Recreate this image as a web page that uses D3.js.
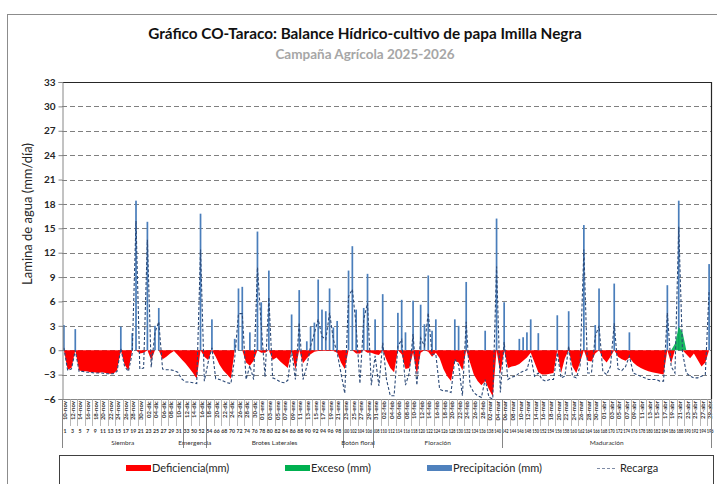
<!DOCTYPE html>
<html lang="es">
<head>
<meta charset="utf-8">
<title>Balance Hídrico - Taraco</title>
<style>
  body { margin: 0; background: #fff; }
  svg { display: block; font-family: Lato, "Liberation Sans", sans-serif; }
</style>
</head>
<body>
<svg id="chart" width="717" height="484"></svg>
<script src="https://d3js.org/d3.v7.min.js"></script>
<script>
// datos (mm/dia), dia 1 = 10-nov-2025
var fechaInicio = new Date(2025, 10, 10);
var meses = ["ene", "feb", "mar", "abr", "may", "jun", "jul", "ago", "sep", "oct", "nov", "dic"];

var precipitacion = [
  3.1, 0, 0, 2.6, 0, 0, 0, 0, 0, 0,
  0, 0, 0, 0, 0, 2.9, 0, 0, 2.1, 18.4,
  0, 0, 15.8, 0, 3.0, 5.2, 0, 0, 0, 0,
  0, 0, 0, 0, 0, 0, 16.8, 0, 0, 3.8,
  0, 0, 0, 0, 0, 1.4, 7.6, 7.8, 0, 2.2,
  0, 14.6, 5.9, 0, 9.8, 0, 0, 0, 0, 0,
  4.4, 0, 7.4, 0, 1.1, 2.9, 3.4, 8.7, 5.0, 4.8,
  7.6, 2.8, 3.6, 0, 0, 9.8, 12.8, 5.0, 0, 5.2,
  9.4, 0, 3.8, 0, 6.9, 0, 0, 0, 4.6, 6.2,
  2.2, 0, 6.1, 0, 5.6, 3.2, 9.2, 2.4, 3.8, 0,
  0, 0, 0, 3.8, 3.0, 0, 8.4, 0, 0, 0,
  0, 2.4, 0, 0, 16.2, 0, 5.9, 0, 0, 0,
  1.4, 1.6, 2.2, 3.8, 0, 2.1, 0, 0, 0, 0,
  4.3, 0, 0, 4.8, 0, 0, 0, 15.4, 0, 0,
  3.1, 7.6, 0, 0, 0, 8.2, 0, 0, 0, 2.2,
  0, 0, 0, 0, 0, 0, 0, 0, 0, 8.0,
  0, 0, 18.4, 0, 0, 0, 0, 0, 0, 0,
  10.6
];

var deficiencia = [
  0, -2.4, -2.2, 0, -2.5, -2.6, -2.6, -2.7, -2.7, -2.8,
  -2.7, -2.8, -2.9, -2.9, -2.5, 0, -1.8, -2.5, 0, 0,
  -0.4, -0.3, 0, -1.2, 0, 0, -1.1, -0.8, -0.4, -0.1,
  -0.6, -1.1, -1.6, -2.2, -2.8, -3.5, 0, -0.8, -1.2, 0,
  -0.8, -1.8, -2.5, -3.0, -3.5, 0, 0, 0, -1.5, -1.9,
  -1.3, 0, -0.3, -0.3, 0, -1.2, -0.9, -1.4, -1.8, -2.2,
  0, -2.4, 0, -1.6, -1.0, -0.5, -0.2, -0.1, -0.1, -0.1,
  -0.1, -0.1, -0.3, -1.5, -2.3, 0, 0, -0.4, -0.4, 0,
  -0.3, -0.3, -0.5, -0.6, 0, -1.2, -2.2, -2.7, 0, -0.5,
  -2.3, -2.2, -0.3, -3.0, -0.3, 0, -0.2, -0.8, -0.3, -1.0,
  -2.3, -3.2, -3.8, -1.3, -1.5, -2.5, 0, -1.5, -3.0, -3.8,
  -4.3, -3.8, -4.8, -5.7, 0, -2.9, 0, -2.2, -2.0, -1.9,
  -1.7, -1.3, -0.9, -0.3, -1.5, -2.7, -3.0, -3.0, -2.9, -2.8,
  0, -2.8, -1.0, 0, -2.0, -2.8, -1.5, 0, -1.3, -1.4,
  -0.4, 0, -1.0, -1.5, -0.8, 0, -0.8, -1.1, -1.3, -0.9,
  -1.5, -1.9, -2.2, -2.4, -2.6, -2.7, -2.8, -2.9, -3.0, 0,
  -1.6, 0, 0, 0, -0.5, -1.0, -0.4, -1.2, -2.0, -1.5,
  0
];

var exceso = [
  0, 0, 0, 0, 0, 0, 0, 0, 0, 0,
  0, 0, 0, 0, 0, 0, 0, 0, 0, 0,
  0, 0, 0, 0, 0, 0, 0, 0, 0, 0,
  0, 0, 0, 0, 0, 0, 0, 0, 0, 0,
  0, 0, 0, 0, 0, 0, 0, 0, 0, 0,
  0, 0, 0, 0, 0, 0, 0, 0, 0, 0,
  0, 0, 0, 0, 0, 0, 0, 0, 0, 0,
  0, 0, 0, 0, 0, 0, 0, 0, 0, 0,
  0, 0, 0, 0, 0, 0, 0, 0, 0, 0,
  0, 0, 0, 0, 0, 0, 0, 0, 0, 0,
  0, 0, 0, 0, 0, 0, 0, 0, 0, 0,
  0, 0, 0, 0, 0, 0, 0, 0, 0, 0,
  0, 0, 0, 0, 0, 0, 0, 0, 0, 0,
  0, 0, 0, 0, 0, 0, 0, 0, 0, 0,
  0, 0, 0, 0, 0, 0, 0, 0, 0, 0,
  0, 0, 0, 0, 0, 0, 0, 0, 0, 0,
  0, 0.8, 2.9, 2.2, 0, 0, 0, 0, 0, 0,
  0
];

var recarga = [
  0.3, -2.5, -2.3, 0, -2.6, -2.6, -2.7, -2.7, -2.8, -2.8,
  -2.8, -2.9, -2.9, -2.9, -2.6, 0.2, -2.0, -2.6, -0.4, 15.9,
  -2.3, -2.2, 13.6, -2.1, 2.2, 3.5, -2.3, -2.4, -2.4, -2.5,
  -2.7, -3.5, -3.9, -3.9, -4.0, -4.1, 12.4, -3.8, -1.5, 0.3,
  -3.5, -3.6, -3.8, -4.0, -4.1, -1.0, 4.5, 4.5, -3.6, -1.9,
  -3.6, 10.2, 3.0, -3.3, 6.5, -3.4, -3.6, -3.9, -4.0, -3.7,
  0, -3.6, 3.4, -3.6, -2.0, 0.5, 2.1, 3.8, 1.7, 1.3,
  4.6, 1.3, -0.3, -2.8, -5.3, 6.6, 7.5, 3.0, -4.1, 3.8,
  5.8, -4.3, -0.7, -4.4, 0.9, -3.6, -5.6, -5.6, 0.5, 1.3,
  -4.3, -2.8, 2.0, -4.3, 1.5, 0.5, 4.6, -0.5, -0.5, -4.8,
  -5.0, -5.0, -5.2, -1.1, -1.8, -5.6, 3.5, -4.3, -5.2, -5.6,
  -5.8, -3.6, -5.8, -6.0, 10.3, -5.2, 1.0, -3.6, -3.3, -3.2,
  -2.8, -2.6, -2.4, -0.7, -3.2, -2.8, -3.6, -3.8, -3.6, -3.6,
  -0.3, -3.4, -3.2, 0.5, -3.2, -3.4, -2.0, 12.4, -2.8, -2.8,
  1.7, 3.0, -2.6, -3.0, -2.0, 3.3, -2.3, -2.5, -2.0, -0.7,
  -2.8, -3.0, -3.2, -3.4, -3.6, -3.6, -3.6, -3.8, -3.8, 4.6,
  -2.0, -2.8, 15.2, -0.3, -2.8, -3.2, -3.4, -3.4, -3.2, -3.0,
  7.4
];

// fila de numeros bajo las fechas (cada 2 dias)
var numeros = d3.range(1, 34, 2).concat([50, 52, 54], d3.range(66, 197, 2));

var fases = [
  { nombre: "Siembra", inicio: 1, fin: 32 },
  { nombre: "Emergencia", inicio: 33, fin: 38 },
  { nombre: "Brotes Laterales", inicio: 39, fin: 74 },
  { nombre: "Botón floral", inicio: 75, fin: 82 },
  { nombre: "Floración", inicio: 83, fin: 116 },
  { nombre: "Maduración", inicio: 117, fin: 171 }
];

var yTicks = d3.range(-6, 34, 3);

var dias = d3.range(1, precipitacion.length + 1);
var fechas = dias.map(d => d3.timeDay.offset(fechaInicio, d - 1));
var fmtDia = d3.timeFormat("%d");
var etiquetaFecha = dt => fmtDia(dt) + "-" + meses[dt.getMonth()];

var svg = d3.select("#chart");
var pLeft = 62, pRight = 711, pTop = 82, pBottom = 399;

// marco exterior
svg.append("rect")
  .attr("x", 7.5).attr("y", 14.5)
  .attr("width", 730).attr("height", 500)
  .attr("fill", "#fff").attr("stroke", "#8c8c8c");

// titulos
svg.append("text")
  .attr("x", 365).attr("y", 39)
  .attr("text-anchor", "middle")
  .style("font-size", "15.3px").style("font-weight", "bold").style("fill", "#111")
  .text("Gráfico CO-Taraco: Balance Hídrico-cultivo de papa Imilla Negra");
svg.append("text")
  .attr("x", 365).attr("y", 59)
  .attr("text-anchor", "middle")
  .style("font-size", "13.5px").style("font-weight", "bold").style("fill", "#a6a6a6")
  .text("Campaña Agrícola 2025-2026");

var x = d3.scaleBand().domain(dias).range([pLeft, pRight]).paddingInner(0.55).paddingOuter(0.275);
var step = x.step();
var cx = d => x(d) + x.bandwidth() / 2;
var y = d3.scaleLinear().domain([-6, 33]).range([pBottom, pTop]);

// lineas de cuadricula
svg.append("g").selectAll("line")
  .data(yTicks.filter(t => t > -6 && t < 33))
  .join("line")
  .attr("x1", pLeft).attr("x2", pRight)
  .attr("y1", d => Math.round(y(d)) + 0.5).attr("y2", d => Math.round(y(d)) + 0.5)
  .attr("stroke", "#7f7f7f").attr("stroke-dasharray", "5,3");

// deficiencia (area roja)
var area = d3.area()
  .x((d, i) => cx(dias[i]))
  .y0(y(0))
  .y1(d => y(d));
svg.append("path")
  .datum(deficiencia)
  .attr("d", area)
  .attr("fill", "#ff0000");

// precipitacion (barras)
svg.append("g").selectAll("rect")
  .data(dias.filter((d, i) => precipitacion[i] > 0))
  .join("rect")
  .attr("x", d => x(d))
  .attr("width", x.bandwidth())
  .attr("y", d => y(precipitacion[d - 1]))
  .attr("height", d => y(0) - y(precipitacion[d - 1]))
  .attr("fill", "#4a7ebb");

// exceso (area verde)
svg.append("path")
  .datum(exceso)
  .attr("d", area)
  .attr("fill", "#00b050")
  .attr("fill-opacity", 0.9);

// recarga (linea discontinua)
svg.append("path")
  .datum(recarga)
  .attr("d", d3.line().x((d, i) => cx(dias[i])).y(d => y(d)))
  .attr("fill", "none")
  .attr("stroke", "#2c4a78")
  .attr("stroke-width", 1.1)
  .attr("stroke-dasharray", "3,2");

// marco del area de trazado
svg.append("path")
  .attr("d", "M" + pLeft + "," + (pTop + 0.5) + "H" + (pRight + 0.5) + "V" + pBottom)
  .attr("fill", "none").attr("stroke", "#262626").attr("stroke-width", 1.2);

// eje y
var yAxis = svg.append("g")
  .attr("transform", "translate(" + (pLeft + 0.5) + ",0)")
  .call(d3.axisLeft(y).tickValues(yTicks).tickSize(4).tickPadding(3));
yAxis.select(".domain").attr("stroke", "#868686");
yAxis.selectAll(".tick line").attr("stroke", "#868686");
yAxis.selectAll("text")
  .style("font-family", "Lato, sans-serif")
  .style("font-size", "10px").style("font-weight", "bold").style("fill", "#262626");

svg.append("text")
  .attr("transform", "translate(32,214) rotate(-90)")
  .attr("text-anchor", "middle")
  .style("font-size", "13px").style("fill", "#262626")
  .text("Lamina de agua (mm/día)");

// eje x: celdas de fecha cada 2 dias
var gx = svg.append("g");
gx.append("line")
  .attr("x1", pLeft).attr("x2", pRight + 0.5)
  .attr("y1", pBottom + 0.5).attr("y2", pBottom + 0.5)
  .attr("stroke", "#868686");

var celdas = d3.range(0, dias.length, 2);
gx.selectAll(".sep")
  .data(celdas)
  .join("line")
  .attr("class", "sep")
  .attr("x1", d => Math.round(x(dias[d]) - (step - x.bandwidth()) / 2) + 0.5)
  .attr("x2", d => Math.round(x(dias[d]) - (step - x.bandwidth()) / 2) + 0.5)
  .attr("y1", pBottom).attr("y2", 426)
  .attr("stroke", "#a6a6a6").attr("stroke-width", 0.8);

gx.selectAll(".fecha")
  .data(celdas)
  .join("text")
  .attr("class", "fecha")
  .attr("transform", d => "translate(" + (x(dias[d]) + step * 0.5 + 2.2) + "," + (pBottom + 2) + ") rotate(-90)")
  .attr("text-anchor", "end")
  .style("font-size", "6px").style("font-weight", "bold").style("fill", "#333")
  .text(d => etiquetaFecha(fechas[d]));

var nums = gx.selectAll(".num")
  .data(celdas)
  .join("text")
  .attr("class", "num")
  .attr("x", d => x(dias[d]) + step * 0.5)
  .attr("y", 433)
  .attr("text-anchor", "middle")
  .style("font-size", "5.2px").style("font-weight", "bold").style("fill", "#333")
  .text((d, i) => numeros[i]);
// los numeros de tres cifras se comprimen para que quepan en la celda
nums.filter((d, i) => numeros[i] >= 100)
  .attr("textLength", step * 2 - 0.8)
  .attr("lengthAdjust", "spacingAndGlyphs");

// fases fenologicas
var borde = d => pLeft + (d - 1) * step;
gx.selectAll(".fase-sep")
  .data([1].concat(fases.map(f => f.fin + 1)))
  .join("line")
  .attr("class", "fase-sep")
  .attr("x1", d => Math.min(Math.round(borde(d)), pRight) + 0.5)
  .attr("x2", d => Math.min(Math.round(borde(d)), pRight) + 0.5)
  .attr("y1", pBottom).attr("y2", 448)
  .attr("stroke", "#868686");

gx.selectAll(".fase")
  .data(fases)
  .join("text")
  .attr("class", "fase")
  .attr("x", f => (borde(f.inicio) + borde(f.fin + 1)) / 2)
  .attr("y", 445)
  .attr("text-anchor", "middle")
  .style("font-size", "6.5px").style("fill", "#333")
  .text(f => f.nombre);

// leyenda
var leyenda = [
  { nombre: "Deficiencia(mm)", tipo: "rect", color: "#ff0000", x: 126 },
  { nombre: "Exceso (mm)", tipo: "rect", color: "#00b050", x: 285 },
  { nombre: "Precipitación (mm)", tipo: "rect", color: "#4f81bd", x: 427 },
  { nombre: "Recarga", tipo: "linea", color: "#7f8ca6", x: 597 }
];
svg.append("rect")
  .attr("x", 59.5).attr("y", 455.5)
  .attr("width", 654).attr("height", 40)
  .attr("fill", "#fff").attr("stroke", "#404040");

var items = svg.append("g").selectAll("g")
  .data(leyenda)
  .join("g")
  .attr("transform", d => "translate(" + d.x + ",468)");
items.filter(d => d.tipo === "rect").append("rect")
  .attr("x", 0).attr("y", -3)
  .attr("width", 25).attr("height", 6)
  .attr("fill", d => d.color);
items.filter(d => d.tipo === "linea").append("line")
  .attr("x1", 0).attr("x2", 19)
  .attr("y1", 0.5).attr("y2", 0.5)
  .attr("stroke", d => d.color).attr("stroke-width", 1.2)
  .attr("stroke-dasharray", "3,2");
items.append("text")
  .attr("x", d => d.tipo === "rect" ? 26 : 23)
  .attr("y", 4)
  .style("font-size", "11px").style("fill", "#262626")
  .text(d => d.nombre);
</script>
</body>
</html>
